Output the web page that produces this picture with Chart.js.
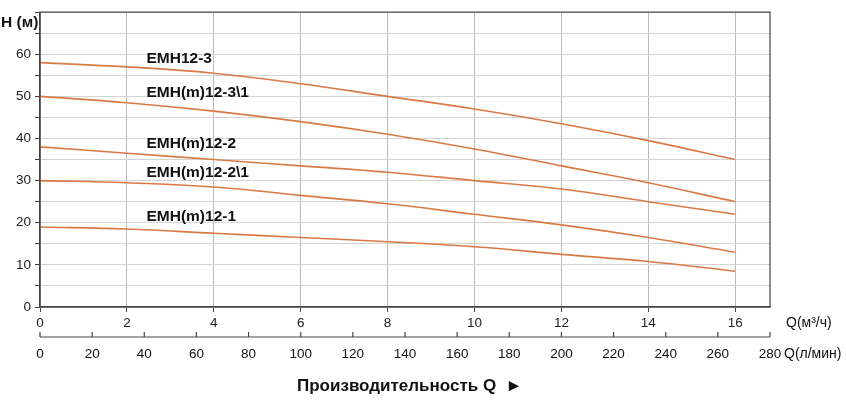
<!DOCTYPE html>
<html><head><meta charset="utf-8">
<script src="https://cdn.jsdelivr.net/npm/chart.js@4"></script>
<style>body{margin:0;background:#fff}#w{width:846px;height:401px}</style>
</head><body><div id="w"><canvas id="c"></canvas></div>
<script>
const flowM3 = [0,2,4,6,8,10,12,14,16];
const seriesNames = ['EMH12-3','EMH(m)12-3\\1','EMH(m)12-2','EMH(m)12-2\\1','EMH(m)12-1'];
const emh12_3   = [58,57,55.5,53,50,47,43.5,39.5,35];
const emh12_3_1 = [50,48.5,46.5,44,41,37.5,33.5,29.5,25];
const emh12_2   = [38,36.5,35,33.5,32,30,28,25,22];
const emh12_2_1 = [30,29.5,28.5,26.5,24.5,22,19.5,16.5,13];
const emh12_1   = [19,18.5,17.5,16.5,15.5,14.3,12.5,10.8,8.5];
const labelPos = [[2.45,59],[2.45,50.8],[2.45,38.8],[2.45,31.9],[2.45,21.5]];
const lpmTicks = [0,20,40,60,80,100,120,140,160,180,200,220,240,260,280];
const allSeries = [emh12_3,emh12_3_1,emh12_2,emh12_2_1,emh12_1];
const col = '#d97a45';
const FONT = 'Liberation Sans, Arial, sans-serif';

const overlay = {
  id:'overlay',
  afterDraw(ch){
    const ctx = ch.ctx, xs = ch.scales.x, ys = ch.scales.y, a = ch.chartArea;
    ctx.save();
    ctx.fillStyle = '#111';
    ctx.font = 'bold 15.5px '+FONT;
    ctx.textBaseline = 'middle'; ctx.textAlign = 'left';
    seriesNames.forEach((n,i)=>ctx.fillText(n, xs.getPixelForValue(labelPos[i][0]), ys.getPixelForValue(labelPos[i][1])));
    ctx.font = 'bold 15.5px '+FONT;
    ctx.fillText('H (м)', 1, 23);
    ctx.font = '14px '+FONT;
    ctx.fillText('Q(м³/ч)', 786, 323);
    const y0 = 337, x0 = a.left, x1 = a.right;
    ctx.strokeStyle = '#444'; ctx.lineWidth = 1.2;
    ctx.beginPath(); ctx.moveTo(x0,y0); ctx.lineTo(x1,y0); ctx.stroke();
    ctx.textAlign = 'center';
    ctx.font = '13.5px '+FONT;
    lpmTicks.forEach(v=>{
      const px = x0 + (x1-x0)*v/280;
      ctx.beginPath(); ctx.moveTo(px,y0); ctx.lineTo(px,y0-5); ctx.stroke();
      ctx.fillText(String(v), px, 354);
    });
    ctx.textAlign = 'left';
    ctx.font = '14px '+FONT;
    ctx.fillText('Q(л/мин)', 784, 354);
    ctx.font = 'bold 17px '+FONT;
    ctx.fillText('Производительность Q  ►', 297, 386);
    ctx.restore();
  }
};

new Chart(document.getElementById('c'), {
  type:'line',
  data:{ datasets: allSeries.map((s,i)=>({
    label: seriesNames[i],
    data: s.map((v,j)=>({x:flowM3[j], y:v})),
    borderColor: col, borderWidth: 1.6, pointRadius: 0, tension: 0.4, fill:false
  }))},
  options:{
    responsive:true, maintainAspectRatio:false, animation:false,
    layout:{padding:{left:0,top:10,right:76,bottom:0}},
    plugins:{legend:{display:false}, tooltip:{enabled:false}},
    scales:{
      x:{ type:'linear', min:0, max:16.8,
        afterBuildTicks(s){ s.ticks = flowM3.map(v=>({value:v})); },
        afterFit(s){ s.height = 94; },
        grid:{ color:'#bbb', lineWidth:1, tickLength:5, drawTicks:true, tickColor:'#444' },
        border:{ color:'#444', width:1.2 },
        ticks:{ color:'#222', font:{family:FONT,size:13.5}, padding:3, maxRotation:0 }
      },
      y:{ min:0, max:70,
        afterBuildTicks(s){ const t=[]; for(let v=0;v<=70;v+=5) t.push({value:v}); s.ticks=t; },
        afterFit(s){ s.width = 40; },
        grid:{ color:'#d4d4d4', lineWidth:1, tickLength:5, tickColor:'#444' },
        border:{ color:'#444', width:1.2 },
        ticks:{ color:'#222', font:{family:FONT,size:13.5}, padding:4,
          callback:(v)=> (v%10===0 && v<=60) ? String(v) : '' }
      }
    }
  },
  plugins:[overlay, {id:'frame', afterDraw(ch){const a=ch.chartArea,c=ch.ctx;c.save();c.strokeStyle='#444';c.lineWidth=1.2;c.strokeRect(a.left,a.top,a.right-a.left,a.bottom-a.top);c.restore();}}]
});
</script></body></html>
